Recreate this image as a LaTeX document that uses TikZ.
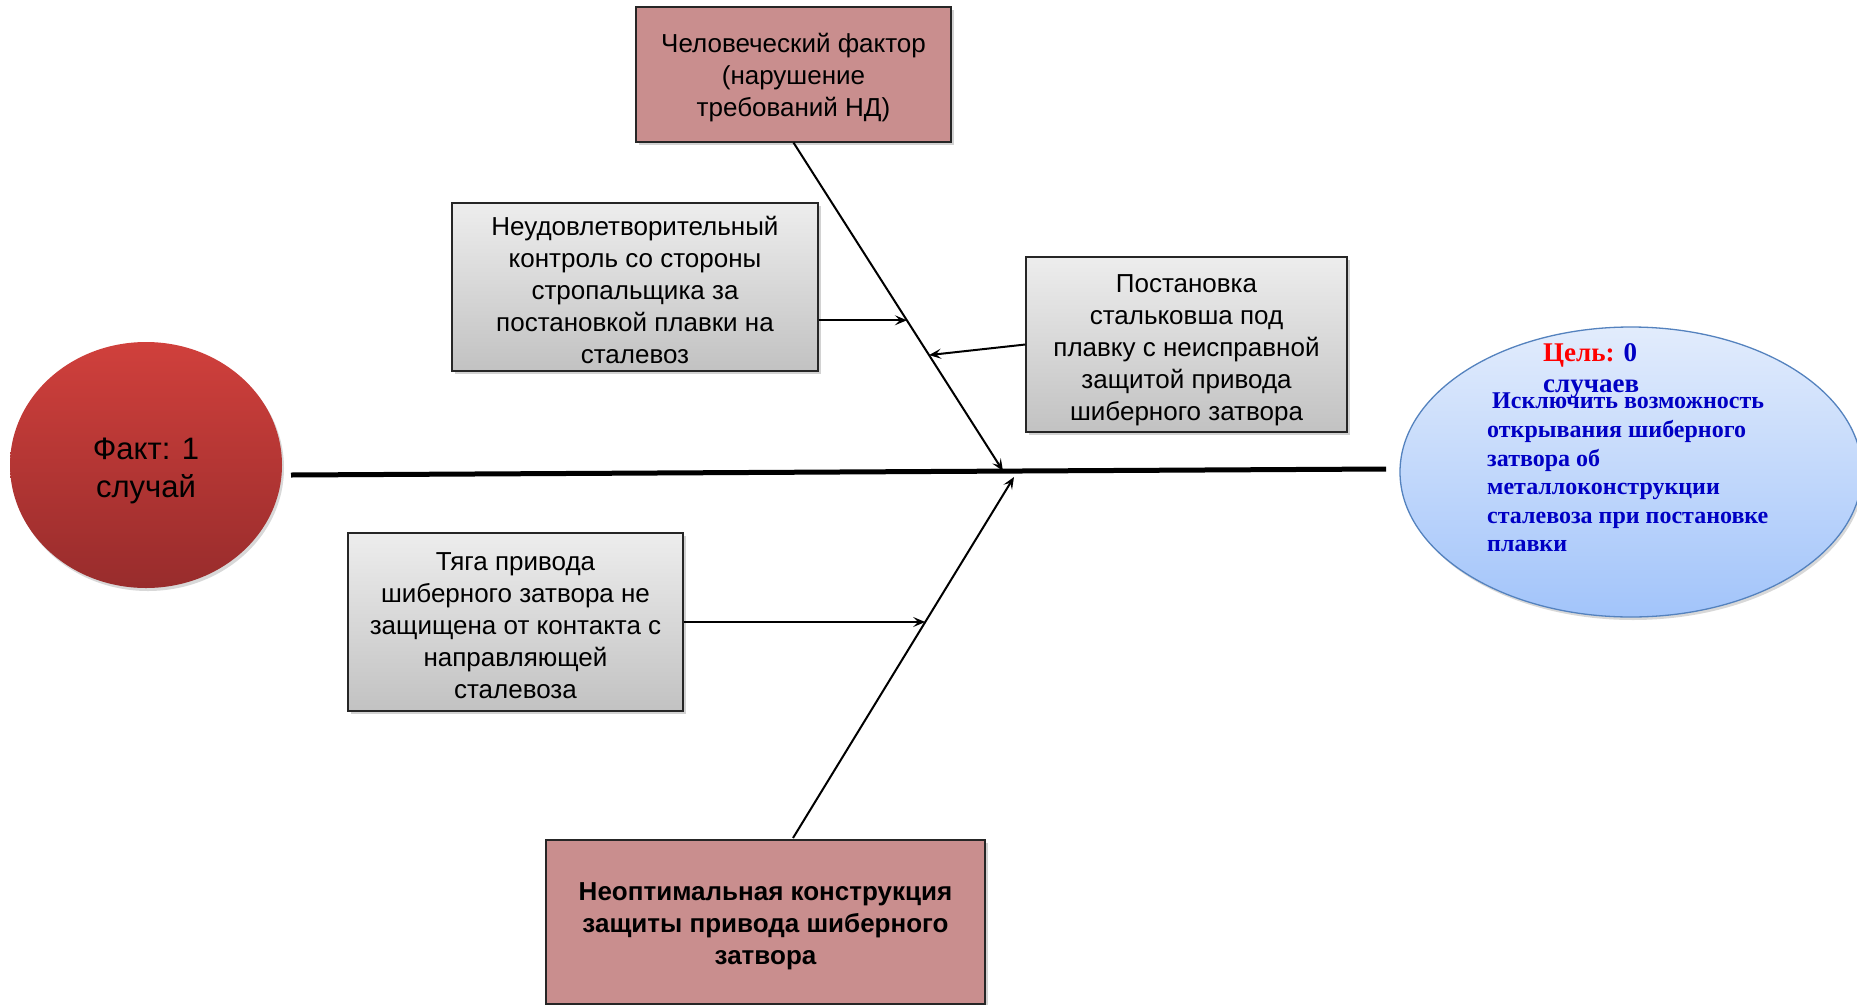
\documentclass[tikz,border=0pt]{standalone}
\usepackage{fontspec}
\setmainfont{Liberation Sans}
\newfontfamily\goalfont{Liberation Serif}
\usetikzlibrary{shadows,shapes.geometric,calc,arrows.meta}
\definecolor{faktred}{RGB}{208,64,60}
\definecolor{faktdark}{RGB}{152,44,44}
\definecolor{causepink}{RGB}{201,142,142}
\definecolor{goaltop}{RGB}{226,236,252}
\definecolor{goalbot}{RGB}{162,196,250}
\definecolor{goaledge}{RGB}{84,130,190}
\definecolor{goalblue}{RGB}{0,0,196}
\newcommand\dropline{\rule{0pt}{26pt}}

\begin{document}
\begin{tikzpicture}[x=1pt, y=-1pt,
    cause/.style={draw=black!85, line width=1.2pt,
        top color=gray!14, bottom color=gray!48,
        align=center, inner sep=0pt,
        font=\fontsize{26}{32}\selectfont,
        drop shadow={shadow xshift=3pt, shadow yshift=-3pt, opacity=0.35}},
    mainc/.style={cause, fill=causepink, top color=causepink, bottom color=causepink},
    rib/.style={line width=2pt, -{Stealth[length=12pt,width=10pt,inset=5pt]}},
    spine/.style={line width=5pt}
    ]
    \clip (0,0) rectangle (1857,1004);
    \fill[white] (0,0) rectangle (1857,1004);

    \node[ellipse, minimum width=272pt, minimum height=246pt, inner sep=0pt,
        top color=faktred, bottom color=faktdark, align=center,
        font=\fontsize{31}{38}\selectfont,
        drop shadow={shadow xshift=2pt, shadow yshift=-3pt, opacity=0.3}]
        (fakt) at (146,465) {\rule{0pt}{33pt}Факт: 1\\случай};

    \node[ellipse, minimum width=462pt, minimum height=290pt, inner sep=0pt,
        draw=goaledge, line width=1.3pt, top color=goaltop, bottom color=goalbot,
        drop shadow={shadow xshift=2pt, shadow yshift=-3pt, opacity=0.3}]
        (goal) at (1631,472) {};
    \node[anchor=base west, inner sep=0pt, font=\goalfont\bfseries\fontsize{27}{30}\selectfont]
        (goalhead) at (1543,361) {\textcolor{red}{Цель:} \textcolor{goalblue}{0}};
    \node[anchor=base west, inner sep=0pt, text=goalblue, font=\goalfont\bfseries\fontsize{27}{30}\selectfont]
        (goalcase) at (1543,392) {случаев};
    \node[anchor=north west, inner sep=0pt, align=left, text=goalblue,
        font=\goalfont\bfseries\fontsize{24}{28.6}\selectfont]
        (goaltext) at (1487,393) {\hspace*{5pt}Исключить возможность\\открывания шиберного\\затвора об\\металлоконструкции\\сталевоза при постановке\\плавки};

    \node[mainc, minimum width=315pt, minimum height=135pt] (human) at (793.5,74.5)
        {\dropline Человеческий фактор\\(нарушение\\требований НД)};
    \node[cause, minimum width=366pt, minimum height=168pt] (control) at (635,287)
        {\dropline Неудовлетворительный\\контроль со стороны\\стропальщика за\\постановкой плавки на\\сталевоз};
    \node[cause, minimum width=321pt, minimum height=175pt] (setup) at (1186.5,344.5)
        {\rule{0pt}{30pt}Постановка\\стальковша под\\плавку с неисправной\\защитой привода\\шиберного затвора};
    \node[cause, minimum width=335pt, minimum height=178pt] (rod) at (515.5,622)
        {\dropline Тяга привода\\шиберного затвора не\\защищена от контакта с\\направляющей\\сталевоза};
    \node[mainc, minimum width=439pt, minimum height=164pt,
        font=\bfseries\fontsize{26}{32}\selectfont] (design) at (765.5,922)
        {\dropline Неоптимальная конструкция\\защиты привода шиберного\\затвора};

    \coordinate (spineL) at (291,475);
    \coordinate (spineR) at (1386,469);
    \coordinate (topend) at (1003,471);
    \coordinate (lowstart) at (793,838);
    \coordinate (lowend) at (1014,477);
    \coordinate (hitA) at ($(human.south)!0.541!(topend)$);
    \coordinate (hitB) at ($(human.south)!0.647!(topend)$);
    \coordinate (hitC) at ($(lowstart)!0.598!(lowend)$);

    \draw[spine] (spineL) -- (spineR);
    \draw[rib] (human.south) -- (topend);
    \draw[rib] (lowstart) -- (lowend);
    \draw[rib] (control.east |- hitA) -- (hitA);
    \draw[rib] (setup.west) -- (hitB);
    \draw[rib] (rod.east) -- (rod.east -| hitC);
\end{tikzpicture}
\end{document}
